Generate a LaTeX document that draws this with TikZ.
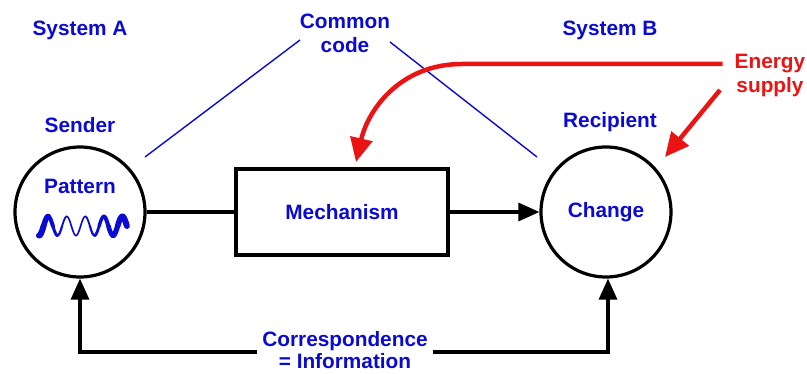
\documentclass[tikz,border=0pt]{standalone}
\usepackage{fontspec}
\setmainfont{Liberation Sans}
\usetikzlibrary{arrows.meta,calc}
\definecolor{txtblue}{RGB}{10,10,210}
\definecolor{enred}{RGB}{235,20,20}
\tikzset{lbl/.style={color=#1,font=\fontsize{20.8}{24}\selectfont\bfseries,align=center,inner sep=0pt},lbl/.default=txtblue}
\tikzset{sys/.style={circle,draw=black,line width=3.2pt,minimum size=130pt,inner sep=0pt}}
\tikzset{wire/.style={color=#1,line width=3.2pt},wire/.default=black}
\tikzset{tip/.style={-{Triangle[length=21pt,width=18pt]}}}

\begin{document}
\begin{tikzpicture}[x=1pt,y=-1pt]
		\useasboundingbox (0,0) rectangle (807,374);
		% systems
		\node [sys] (pat) at (80,212) {};
		\node [sys] (chg) at (606,212) {};
		\node [draw,line width=3.2pt,minimum width=212pt,minimum height=86pt] (mech) at (342,212) {};
		
		\node [lbl] (sysa) at (80,30) {System A};
		\node [lbl] (sysb) at (610,30) {System B};
		\node [lbl] (code) at (345,33) {Common\\code};
		\node [lbl=enred] (energy) at (770,76) {Energy\\supply};
		\node [lbl] (sender) at (80,125) {Sender};
		\node [lbl] (recip) at (610,122) {Recipient};
		\node [lbl] at (pat.center) [yshift=26pt] (pattern) {Pattern};
		\node [lbl] at (mech.center) (mechtxt) {Mechanism};
		\node [lbl] at (chg.center) (chgtxt) {Change};
		\node [lbl,font=\fontsize{20.8}{21.5}\selectfont\bfseries] (corr) at (345,350) {Correspondence\\= Information};
		
		% wave
		\foreach \a/\w in {0/6,0.25/5.5,0.5/4,0.75/3,1/2.2,1.25/1.8,1.5/1.6,1.75/1.6,2/1.6,2.25/1.6,2.5/1.8,2.75/2.2,3/2.8,3.25/3.4,3.5/4,3.75/4.6,4/5.2,4.25/5.6,4.5/6}
			\draw [txtblue,line width=\w pt,line cap=round]
				plot[domain=\a:\a+0.25,samples=12] ({39+\x*18.5},{226+9.5*cos(\x*360)});
		
		% common code
		\coordinate (c1) at (145,157);
		\coordinate (c2) at (300,40);
		\coordinate (c3) at (390,42);
		\coordinate (c4) at (537,157);
		\draw [txtblue,line width=1.4pt] (c1) -- (c2);
		\draw [txtblue,line width=1.4pt] (c3) -- (c4);
		
		% signal path
		\draw [wire] (pat.east) -- (mech.west);
		\draw [wire,tip] (mech.east) -- (chg.west);
		
		% correspondence
		\coordinate (bl) at (80,352);
		\coordinate (br) at (608,352);
		\draw [wire,tip] (corr.west |- bl) ++(-5,0) -- (bl) -- (pat.south);
		\draw [wire,tip] (corr.east |- br) ++(5,0) -- (br) -- (br |- chg.south);
		
		% energy
		\coordinate (e1) at (462,64);
		\coordinate (e2) at (356,162);
		\coordinate (e3) at (665,157);
		\draw [wire=enred,line width=4.5pt,-{Triangle[length=24pt,width=22pt]}] (energy.west |- e1) ++(-12,0) -- (e1)
			.. controls (400,64) and (368,110) .. (e2);
		\draw [wire=enred,line width=4.5pt,-{Triangle[length=24pt,width=22pt]}] (720,90) -- (e3);
	\end{tikzpicture}
\end{document}
